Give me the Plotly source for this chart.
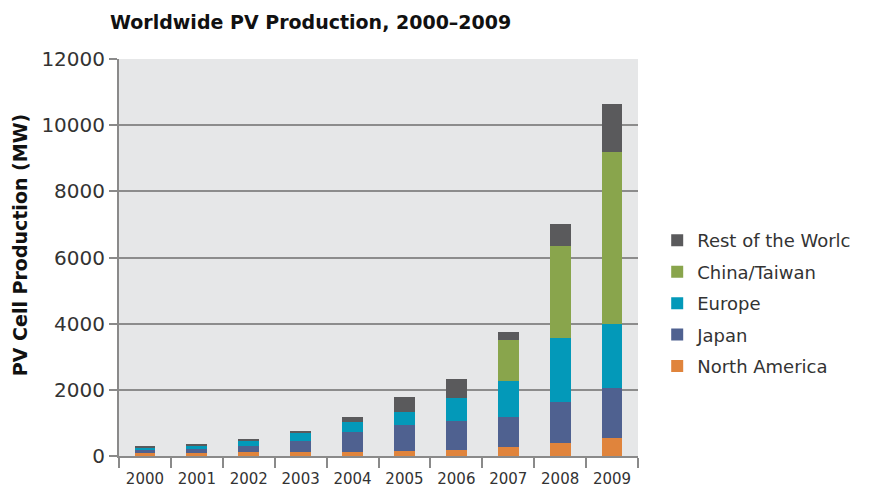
import plotly.graph_objects as go

years = ["2000", "2001", "2002", "2003", "2004", "2005", "2006", "2007", "2008", "2009"]
north_america = [80, 80, 120, 130, 130, 150, 175, 265, 390, 550]
japan = [92, 140, 190, 332, 586, 800, 895, 925, 1245, 1520]
europe = [79, 103, 172, 254, 320, 370, 680, 1063, 1940, 1930]
china_taiwan = [0, 0, 0, 0, 0, 0, 0, 1256, 2780, 5190]
rest_of_world = [30, 40, 40, 40, 150, 460, 570, 232, 672, 1436]

series = [
    ("North America", north_america, "#e0843c"),
    ("Japan", japan, "#4f6190"),
    ("Europe", europe, "#0399b9"),
    ("China/Taiwan", china_taiwan, "#89a54c"),
    ("Rest of the Worlc", rest_of_world, "#5a5a5c"),
]

fig = go.Figure()
for i, (name, vals, col) in enumerate(series):
    fig.add_trace(go.Bar(x=years, y=vals, name=name, marker_color=col,
                         marker_line_width=0, legendgroup=f"g{i}",
                         legendrank=1000 - i))

font_family = "DejaVu Sans"
# page body adds an 8px offset; margins compensate
fig.update_layout(
    barmode="stack",
    bargap=0.6,
    width=869, height=487,
    margin=dict(l=111, r=239, t=51, b=39),
    paper_bgcolor="white",
    plot_bgcolor="#e6e7e8",
    font=dict(family=font_family, color="#222222"),
    title=dict(text="<b>Worldwide PV Production, 2000–2009</b>",
               x=102/869, xanchor="left", y=1 - 14/487, yanchor="middle",
               font=dict(size=19, family=font_family, color="#111111")),
    legend=dict(x=1.037, xanchor="left", y=0.385, yanchor="middle",
                traceorder="grouped", font=dict(size=18, color="#333333"),
                tracegroupgap=5, bgcolor="rgba(0,0,0,0)"),
    showlegend=True,
    annotations=[dict(text="<b>PV Cell Production (MW)</b>", xref="paper", yref="paper",
                      x=-0.1908, y=0.531, xanchor="center", yanchor="middle",
                      textangle=-90, showarrow=False,
                      font=dict(size=19, color="#111111", family=font_family))],
)
fig.update_xaxes(
    type="category", showgrid=False, ticks="outside", tickson="boundaries",
    ticklen=10, tickcolor="#8a8a8a", tickwidth=1.5,
    showline=True, linecolor="#8a8a8a", linewidth=2,
    tickfont=dict(size=15, color="#333333"), ticklabelstandoff=8,
    automargin=False,
)
fig.update_yaxes(
    range=[0, 12000], dtick=2000, tickformat="d",
    showgrid=True, gridcolor="#8c8c8c", gridwidth=2,
    ticks="outside", ticklen=8, tickcolor="#8a8a8a", tickwidth=1.5,
    showline=True, linecolor="#8a8a8a", linewidth=2, zeroline=False,
    tickfont=dict(size=20, color="#333333"), automargin=False,
)
fig.write_html("out.html")
